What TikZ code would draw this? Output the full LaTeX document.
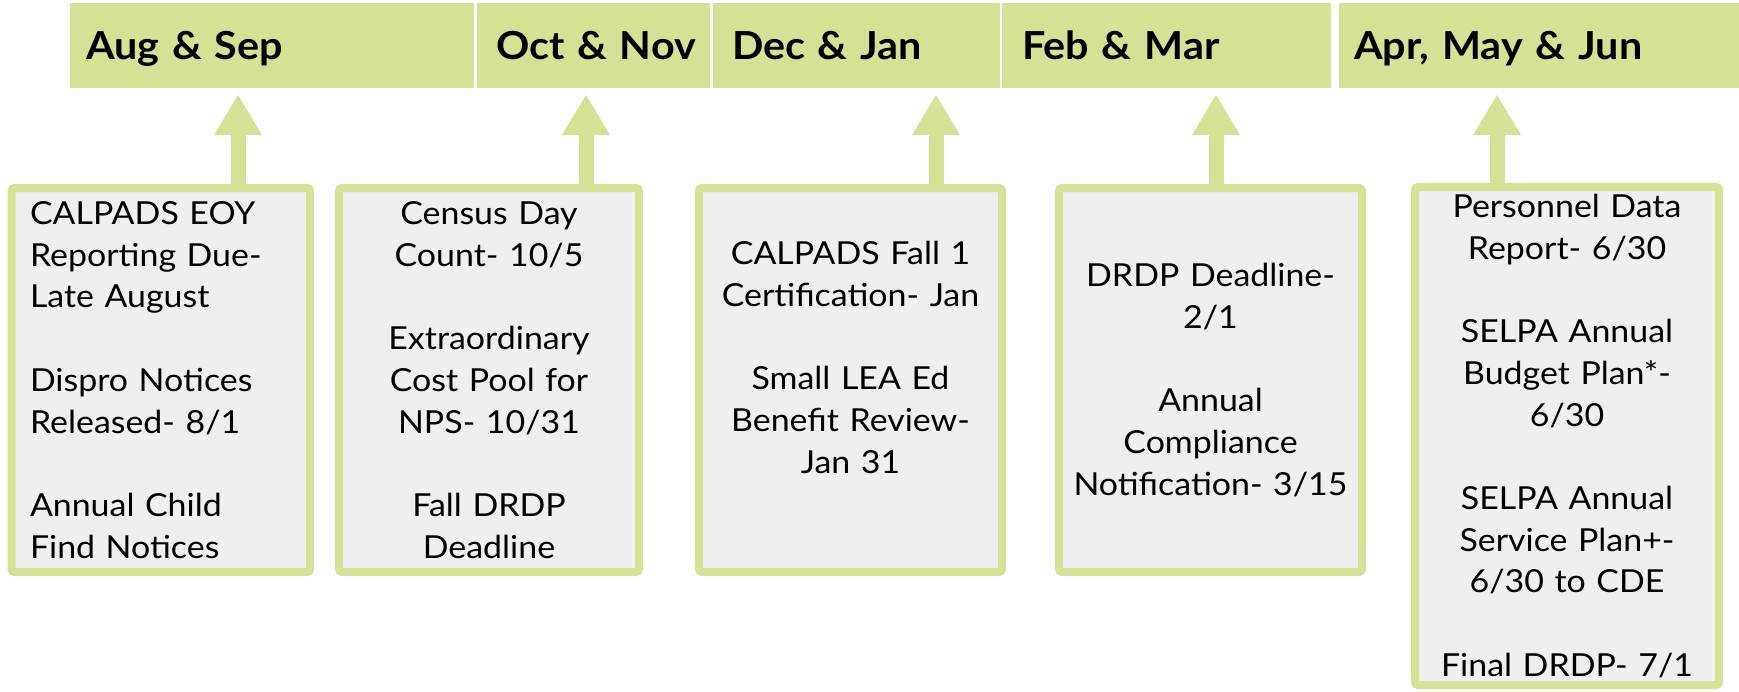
\documentclass[tikz,border=0pt]{standalone}
\usepackage{fontspec}
\setmainfont{Lato}
\newfontfamily\hdrfont[FakeStretch=1.07]{Lato}
\newfontfamily\evtfont[FakeStretch=1.07]{Lato}
\usetikzlibrary{arrows.meta}
\definecolor{lime}{RGB}{213,225,149}
\definecolor{boxgrey}{RGB}{239,239,239}
\begin{document}
\begin{tikzpicture}[x=1pt,y=-1pt,
  hdr/.style={fill=lime, inner ysep=0pt, outer sep=0pt, minimum height=85pt, anchor=north west, align=left, text height=27.7pt, text depth=0pt, font=\hdrfont\fontsize{38.6}{46}\selectfont\bfseries},
  evt/.style={draw=lime, line width=8pt, fill=boxgrey, rounded corners=3pt, inner ysep=0pt, outer sep=0pt, font=\evtfont\fontsize{31.7}{41.7}\selectfont, text=black},
  conn/.style={draw=lime, line width=15pt, -{Triangle[width=48pt,length=40pt,line width=0pt]}, shorten >=7pt}
]
\useasboundingbox (0,0) rectangle (1739,691);
% headers
\node[hdr, inner xsep=16pt, text width=372pt] (h1) at (70,3) {\mbox{Aug \& Sep}};
\node[hdr, inner xsep=19pt, text width=195pt] (h2) at (477,3) {\mbox{Oct \& Nov}};
\node[hdr, inner xsep=19pt, text width=249pt] (h3) at (713,3) {\mbox{Dec \& Jan}};
\node[hdr, inner xsep=20pt, text width=289pt] (h4) at (1002,3) {\mbox{Feb \& Mar}};
\node[hdr, inner xsep=15pt, text width=370pt] (h5) at (1339,3) {\mbox{Apr, May \& Jun}};
% event boxes
\node[evt, align=left, inner xsep=18.5pt, text width=261.5pt, minimum height=384pt] (b1) at (160.75,380)
  {CALPADS EOY\\Reporting Due-\\Late August\\[41.7pt]Dispro Notices\\Released- 8/1\\[41.7pt]Annual Child\\Find Notices};
\node[evt, align=center, inner xsep=10pt, text width=280pt, minimum height=384pt] (b2) at (489,380)
  {Census Day\\Count- 10/5\\[41.7pt]Extraordinary\\Cost Pool for\\NPS- 10/31\\[41.7pt]Fall DRDP\\Deadline};
\node[evt, align=center, inner xsep=10pt, text width=283pt, minimum height=384pt] (b3) at (850.5,380)
  {CALPADS Fall 1\\Certification- Jan\\[41.7pt]Small LEA Ed\\Benefit Review-\\Jan 31\\[-9pt]\strut};
\node[evt, align=center, inner xsep=10pt, text width=283pt, minimum height=384pt] (b4) at (1210.5,380)
  {DRDP Deadline-\\2/1\\[41.7pt]Annual\\Compliance\\Notification- 3/15};
\node[evt, align=center, inner xsep=10pt, text width=284pt, minimum height=498pt] (b5) at (1567,436)
  {Personnel Data\\Report- 6/30\\[41.7pt]SELPA Annual\\Budget Plan*-\\6/30\\[41.7pt]SELPA Annual\\Service Plan+-\\6/30 to CDE\\[41.7pt]Final DRDP- 7/1};
% arrow positions
\coordinate (c1) at (238,0);
\coordinate (c2) at (586,0);
\coordinate (c3) at (936,0);
\coordinate (c4) at (1216,0);
\coordinate (c5) at (1497,0);
\draw[conn] (b1.north -| c1) -- (h1.south -| c1);
\draw[conn] (b2.north -| c2) -- (h2.south -| c2);
\draw[conn] (b3.north -| c3) -- (h3.south -| c3);
\draw[conn] (b4.north -| c4) -- (h4.south -| c4);
\draw[conn] (b5.north -| c5) -- (h5.south -| c5);
\end{tikzpicture}
\end{document}
